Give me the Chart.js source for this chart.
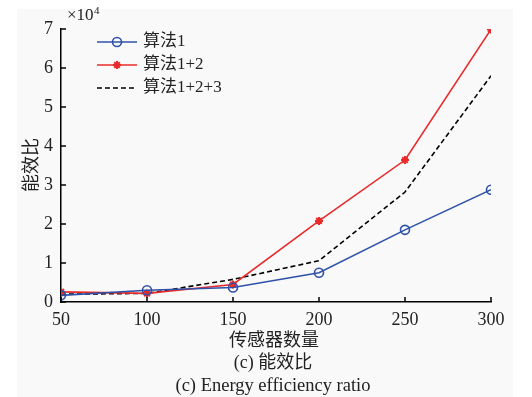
<!DOCTYPE html>
<html><head><meta charset="utf-8">
<script src="https://cdn.jsdelivr.net/npm/chart.js@4"></script>
<style>
html,body{margin:0;padding:0;background:#fff;}
#wrap{position:relative;width:532px;height:397px;}
#panel{position:absolute;left:17px;top:9px;width:496px;height:388px;background:#f9f9f9;}
canvas{position:absolute;left:0;top:0;}
</style></head>
<body><div id="wrap"><div id="panel"></div><canvas id="c" width="532" height="397"></canvas></div>
<script>
const categories = [50, 100, 150, 200, 250, 300];
const alg1 = [0.17, 0.30, 0.37, 0.75, 1.85, 2.88];
const alg12 = [0.26, 0.22, 0.45, 2.08, 3.64, 6.99];
const alg123 = [0.20, 0.22, 0.58, 1.06, 2.82, 5.80];
const yTicks = [0, 1, 2, 3, 4, 5, 6, 7];
const seriesNames = ['算法1', '算法1+2', '算法1+2+3'];
const xTitle = '传感器数量';
const yTitle = '能效比';
const caption1 = '(c) 能效比';
const caption2 = '(c) Energy efficiency ratio';

const serif = '"Liberation Serif", "DejaVu Serif", serif';
const cjk = '"Noto Sans CJK SC", sans-serif';
const mixFont = '"Liberation Serif", "Noto Sans CJK SC", serif';

const decor = {
  id: 'decor',
  afterDraw(chart) {
    const ctx = chart.ctx;
    const xs = chart.scales.x, ys = chart.scales.y;
    ctx.save();
    ctx.strokeStyle = '#000';
    ctx.lineWidth = 1.5;
    yTicks.forEach(v => {
      const p = ys.getPixelForValue(v);
      ctx.beginPath(); ctx.moveTo(xs.left, p); ctx.lineTo(xs.left + 5, p); ctx.stroke();
    });
    categories.forEach(v => {
      const p = xs.getPixelForValue(v);
      ctx.beginPath(); ctx.moveTo(p, ys.bottom); ctx.lineTo(p, ys.bottom - 5); ctx.stroke();
    });
    ctx.fillStyle = '#222';
    ctx.textAlign = 'left'; ctx.textBaseline = 'middle';
    ctx.font = '17px ' + serif;
    ctx.fillText('×10', 67, 16);
    const w = ctx.measureText('×10').width;
    ctx.font = '11px ' + serif;
    ctx.fillText('4', 67 + w + 0.5, 11);
    ctx.textAlign = 'center';
    ctx.font = '18px ' + cjk;
    ctx.fillText(xTitle, 274, 339);
    ctx.font = '18px ' + mixFont;
    ctx.fillText(caption1, 273, 363);
    ctx.font = '18.5px ' + serif;
    ctx.fillText(caption2, 273, 386);
    ctx.save();
    ctx.translate(30, 165); ctx.rotate(-Math.PI / 2);
    ctx.font = '18px ' + cjk;
    ctx.fillText(yTitle, 0, 0);
    ctx.restore();
    chart.data.datasets.forEach((ds, i) => {
      const y = 42 + i * 23;
      ctx.save();
      ctx.strokeStyle = ds.borderColor;
      ctx.lineWidth = ds.borderWidth;
      ctx.setLineDash(ds.borderDash || []);
      ctx.beginPath(); ctx.moveTo(97, y); ctx.lineTo(137, y); ctx.stroke();
      ctx.setLineDash([]);
      if (ds.pointRadius > 0) {
        ctx.fillStyle = ds.pointBackgroundColor;
        ctx.strokeStyle = ds.borderColor;
        ctx.lineWidth = ds.pointBorderWidth;
        Chart.helpers.drawPoint(ctx, {pointStyle: ds.pointStyle, radius: ds.pointRadius, borderWidth: ds.pointBorderWidth, rotation: 0}, 117, y);
      }
      ctx.restore();
      ctx.fillStyle = '#222';
      ctx.textAlign = 'left';
      ctx.font = '17px ' + mixFont;
      ctx.fillText(ds.label, 143, y);
    });
    ctx.restore();
  }
};

new Chart(document.getElementById('c'), {
  type: 'line',
  data: {
    labels: categories,
    datasets: [
      {label: seriesNames[0], data: alg1.map((v,i)=>({x:categories[i], y:v})), borderColor: '#2f52a8', backgroundColor: 'rgba(0,0,0,0)', pointBackgroundColor: 'rgba(0,0,0,0)', borderWidth: 1.6, pointStyle: 'circle', pointRadius: 4.5, pointBorderWidth: 1.6, tension: 0},
      {label: seriesNames[1], data: alg12.map((v,i)=>({x:categories[i], y:v})), borderColor: '#e82a2a', backgroundColor: '#e82a2a', pointBackgroundColor: '#e82a2a', borderWidth: 1.6, pointStyle: 'star', pointRadius: 4, pointBorderWidth: 2, tension: 0},
      {label: seriesNames[2], data: alg123.map((v,i)=>({x:categories[i], y:v})), borderColor: '#000', backgroundColor: '#000', pointBackgroundColor: '#000', borderWidth: 1.6, borderDash: [5, 3], pointRadius: 0, tension: 0}
    ]
  },
  options: {
    responsive: false, animation: false,
    layout: {padding: {left: 0, right: 41, top: 29, bottom: 0}},
    plugins: {legend: {display: false}, tooltip: {enabled: false}},
    scales: {
      x: {
        type: 'linear', min: 50, max: 300,
        afterBuildTicks: s => { s.ticks = categories.map(v => ({value: v})); },
        afterFit: s => { s.height = 95; },
        grid: {display: false, drawTicks: false},
        border: {display: true, color: '#000', width: 1.5},
        ticks: {padding: 7, color: '#222', font: {family: serif, size: 18}, maxRotation: 0}
      },
      y: {
        min: 0, max: 7,
        afterBuildTicks: s => { s.ticks = yTicks.map(v => ({value: v})); },
        afterFit: s => { s.width = 61; },
        grid: {display: false, drawTicks: false},
        border: {display: true, color: '#000', width: 1.5},
        ticks: {padding: 8, color: '#222', font: {family: serif, size: 18}}
      }
    }
  },
  plugins: [decor]
});
</script></body></html>
